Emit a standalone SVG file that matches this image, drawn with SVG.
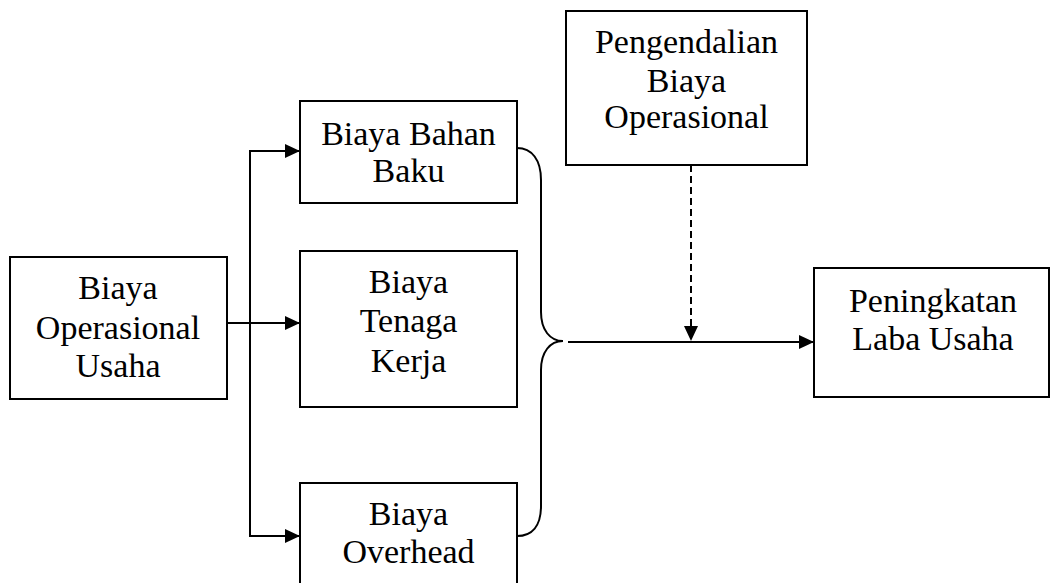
<svg xmlns="http://www.w3.org/2000/svg" width="1050" height="583" viewBox="0 0 1050 583">
  <defs>
    <marker id="arr" markerUnits="userSpaceOnUse" markerWidth="16" markerHeight="14" refX="15" refY="7" orient="auto">
      <path d="M0,0 L15,7 L0,14 Z" fill="#000"/>
    </marker>
    <style>
      .box{fill:#fff;stroke:#000;stroke-width:2}
      .t{font-family:"Liberation Serif","Times New Roman",serif;font-size:34px;fill:#000;text-anchor:middle}
      .c{fill:none;stroke:#000;stroke-width:2}
      .d{fill:none;stroke:#000;stroke-width:2;stroke-dasharray:7 4}
    </style>
  </defs>
  <rect width="1050" height="583" fill="#fff"/>
  <g id="connectors">
    <line class="c" x1="227" y1="323" x2="300" y2="323" marker-end="url(#arr)"/>
    <line class="c" x1="250" y1="150" x2="250" y2="537"/>
    <line class="c" x1="249" y1="151" x2="300" y2="151" marker-end="url(#arr)"/>
    <line class="c" x1="249" y1="536" x2="300" y2="536" marker-end="url(#arr)"/>
    <path class="c" d="M517,148 C532,148 541,160 541,180 L541,312 C541,330 550,341 563,341 C550,341 541,352 541,370 L541,506 C541,526 532,536 517,536"/>
    <line class="c" x1="568" y1="342" x2="814" y2="342" marker-end="url(#arr)"/>
    <line class="d" x1="691" y1="165" x2="691" y2="341" marker-end="url(#arr)"/>
  </g>
  <g id="node-operasional-usaha">
    <rect class="box" x="10" y="257" width="217" height="142"/>
    <text class="t" x="118" y="299">Biaya</text>
    <text class="t" x="118" y="339">Operasional</text>
    <text class="t" x="118" y="377">Usaha</text>
  </g>
  <g id="node-bahan-baku">
    <rect class="box" x="300" y="101" width="217" height="102"/>
    <text class="t" x="408.5" y="145">Biaya Bahan</text>
    <text class="t" x="408.5" y="182">Baku</text>
  </g>
  <g id="node-tenaga-kerja">
    <rect class="box" x="300" y="251" width="217" height="156"/>
    <text class="t" x="408.5" y="293">Biaya</text>
    <text class="t" x="408.5" y="332">Tenaga</text>
    <text class="t" x="408.5" y="372">Kerja</text>
  </g>
  <g id="node-overhead">
    <rect class="box" x="300" y="483" width="217" height="120"/>
    <text class="t" x="408.5" y="525">Biaya</text>
    <text class="t" x="408.5" y="563">Overhead</text>
  </g>
  <g id="node-pengendalian">
    <rect class="box" x="566" y="11" width="241" height="154"/>
    <text class="t" x="686.5" y="53">Pengendalian</text>
    <text class="t" x="686.5" y="92">Biaya</text>
    <text class="t" x="686.5" y="128">Operasional</text>
  </g>
  <g id="node-peningkatan">
    <rect class="box" x="814" y="268" width="235" height="129"/>
    <text class="t" x="933" y="312">Peningkatan</text>
    <text class="t" x="933" y="350">Laba Usaha</text>
  </g>
</svg>
